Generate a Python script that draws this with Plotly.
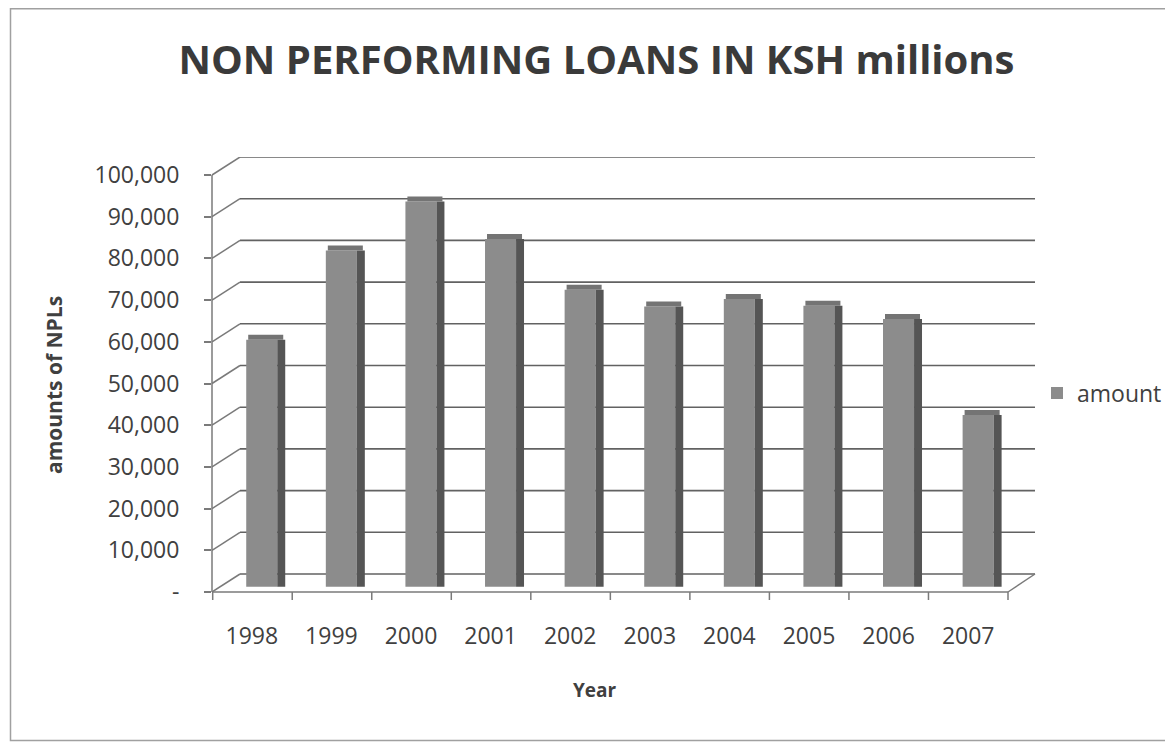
import plotly.graph_objects as go

years = ["1998", "1999", "2000", "2001", "2002", "2003", "2004", "2005", "2006", "2007"]
amounts = [59200, 80600, 92400, 83400, 71200, 67200, 69000, 67400, 64200, 41200]
tick_vals = [0, 10000, 20000, 30000, 40000, 50000, 60000, 70000, 80000, 90000, 100000]
tick_text = ["-", "10,000", "20,000", "30,000", "40,000", "50,000", "60,000",
             "70,000", "80,000", "90,000", "100,000"]

# page has an 8px body margin -> figure drawn 8px smaller, coordinates below are in
# reference-image pixels and converted where needed
OFF = 8
W, H = 1173 - OFF, 743 - OFF
L, R, T, B = 212, 1035, 157, 592        # plot area (reference pixels)
FRONT0, FRONT100 = 592, 175             # front axis: 0 and 100k
BACK0 = 574                             # back wall 0
BAR0 = 586.7                            # bar base
PX_PER = (FRONT0 - FRONT100) / 100000.0
DX = 28                                  # depth offset in x
AX_R = 1008                              # right end of front axis
TXT = "#404040"
GRID = "#626262"
AXC = "#7a7a7a"
FONT = "Open Sans"

ncat = len(years)
cat_w = (AX_R - 212.7) / ncat


def px_x(px):
    return (px - L) / (R - L)


def px_y(py):
    return (B - py) / (B - T)


fig = go.Figure()

# invisible helpers so the front and back-wall axes exist
fig.add_trace(go.Scatter(x=years, y=amounts, yaxis="y", mode="markers",
                         marker=dict(opacity=0), showlegend=False, hoverinfo="skip"))
fig.add_trace(go.Scatter(x=years, y=amounts, yaxis="y2", mode="markers",
                         marker=dict(opacity=0), showlegend=False, hoverinfo="skip"))

cap_h = 5 / PX_PER
# front face of bars
fig.add_trace(go.Bar(
    x=years, y=amounts, name="amount", yaxis="y3",
    width=0.39, offset=-0.07,
    marker=dict(color="#8c8c8c", line=dict(width=0)),
))
# side face
fig.add_trace(go.Bar(
    x=years, y=amounts, yaxis="y3",
    width=0.1, offset=0.32,
    marker=dict(color="#555555", line=dict(width=0)),
    showlegend=False, hoverinfo="skip",
))
# top face
fig.add_trace(go.Bar(
    x=years, y=[cap_h] * ncat, base=amounts, yaxis="y3",
    width=0.44, offset=-0.045,
    marker=dict(color="#747474", line=dict(width=0)),
    showlegend=False, hoverinfo="skip",
))

fig.update_layout(
    width=W, height=H,
    margin=dict(l=L - OFF, r=W - (R - OFF), t=T - OFF, b=H - (B - OFF), pad=0, autoexpand=False),
    paper_bgcolor="white", plot_bgcolor="white",
    barmode="overlay",
    font=dict(family=FONT, color=TXT, size=23),
    title=dict(text="<b>NON PERFORMING LOANS IN KSH millions</b>",
               x=(596.5 - OFF) / W, xanchor="center",
               y=1 - (60 - OFF) / H, yanchor="middle",
               font=dict(size=40, color="#3a3a3a", family=FONT)),
    xaxis=dict(
        type="category", range=[-0.5, -0.5 + (R - 212.7) / cat_w], automargin=False,
        showgrid=False, zeroline=False, showline=False,
        ticks="", tickfont=dict(size=23, color=TXT),
        ticklabelstandoff=28,
    ),
    yaxis=dict(
        range=[0, (FRONT0 - T) / PX_PER], automargin=False,
        tickvals=tick_vals, ticktext=tick_text,
        showgrid=False, zeroline=False, showline=False,
        ticks="outside", ticklen=7, tickcolor=AXC, tickwidth=1.5,
        ticklabelstandoff=20,
        tickfont=dict(size=23, color=TXT),
    ),
    yaxis2=dict(
        overlaying="y", side="left", automargin=False,
        range=[-(B - BACK0) / PX_PER, (BACK0 - T) / PX_PER],
        showticklabels=False, showgrid=False, zeroline=False, showline=False, ticks="",
    ),
    yaxis3=dict(
        overlaying="y", side="left", automargin=False,
        range=[-(B - BAR0) / PX_PER, (BAR0 - T) / PX_PER],
        showticklabels=False, showgrid=False, zeroline=False, showline=False, ticks="",
    ),
    legend=dict(x=px_x(1037), y=px_y(393), xanchor="left", yanchor="middle",
                font=dict(size=23, color=TXT), bgcolor="rgba(0,0,0,0)", itemwidth=30),
    showlegend=True,
)

pp = dict(xref="paper", yref="paper")
line_ax = dict(color=AXC, width=1.5)

# back wall gridlines and slanted connectors from the front axis
for v in tick_vals:
    fig.add_shape(type="line", xref="paper", yref="y2", x0=px_x(L + DX), x1=1, y0=v, y1=v,
                  line=dict(color=GRID, width=1.6), layer="below")
    fig.add_shape(type="line", xref="paper", yref="y", x0=0, x1=px_x(L + DX),
                  y0=v, y1=v + (FRONT0 - BACK0) / PX_PER, line=line_ax, layer="below")

# front vertical axis line
fig.add_shape(type="line", xref="paper", yref="y", x0=0, x1=0, y0=0, y1=100000, line=line_ax)
# front horizontal axis line and right floor edge
fig.add_shape(type="line", x0=px_x(212.7), x1=px_x(AX_R), y0=0, y1=0, line=line_ax, **pp)
fig.add_shape(type="line", x0=px_x(AX_R), x1=1, y0=0, y1=px_y(BACK0), line=line_ax, **pp)
# category boundary ticks
for i in range(ncat + 1):
    xp = px_x(212.7 + i * cat_w)
    fig.add_shape(type="line", x0=xp, x1=xp, y0=0, y1=px_y(600), line=line_ax, **pp)

# axis titles
fig.add_annotation(text="<b>Year</b>", x=px_x(595), y=px_y(690), showarrow=False,
                   xanchor="center", yanchor="middle",
                   font=dict(size=19, color=TXT), **pp)
fig.add_annotation(text="<b>amounts of NPLs</b>", x=px_x(54), y=px_y(385), showarrow=False,
                   xanchor="center", yanchor="middle",
                   textangle=-90, font=dict(size=21, color=TXT), **pp)

# outer chart border
fig.add_shape(type="rect", x0=px_x(10.5), x1=px_x(1170), y0=px_y(740.5), y1=px_y(OFF + 0.8),
              line=dict(color="#a0a0a0", width=1.5), fillcolor="rgba(0,0,0,0)", **pp)

fig.write_html("out.html")
